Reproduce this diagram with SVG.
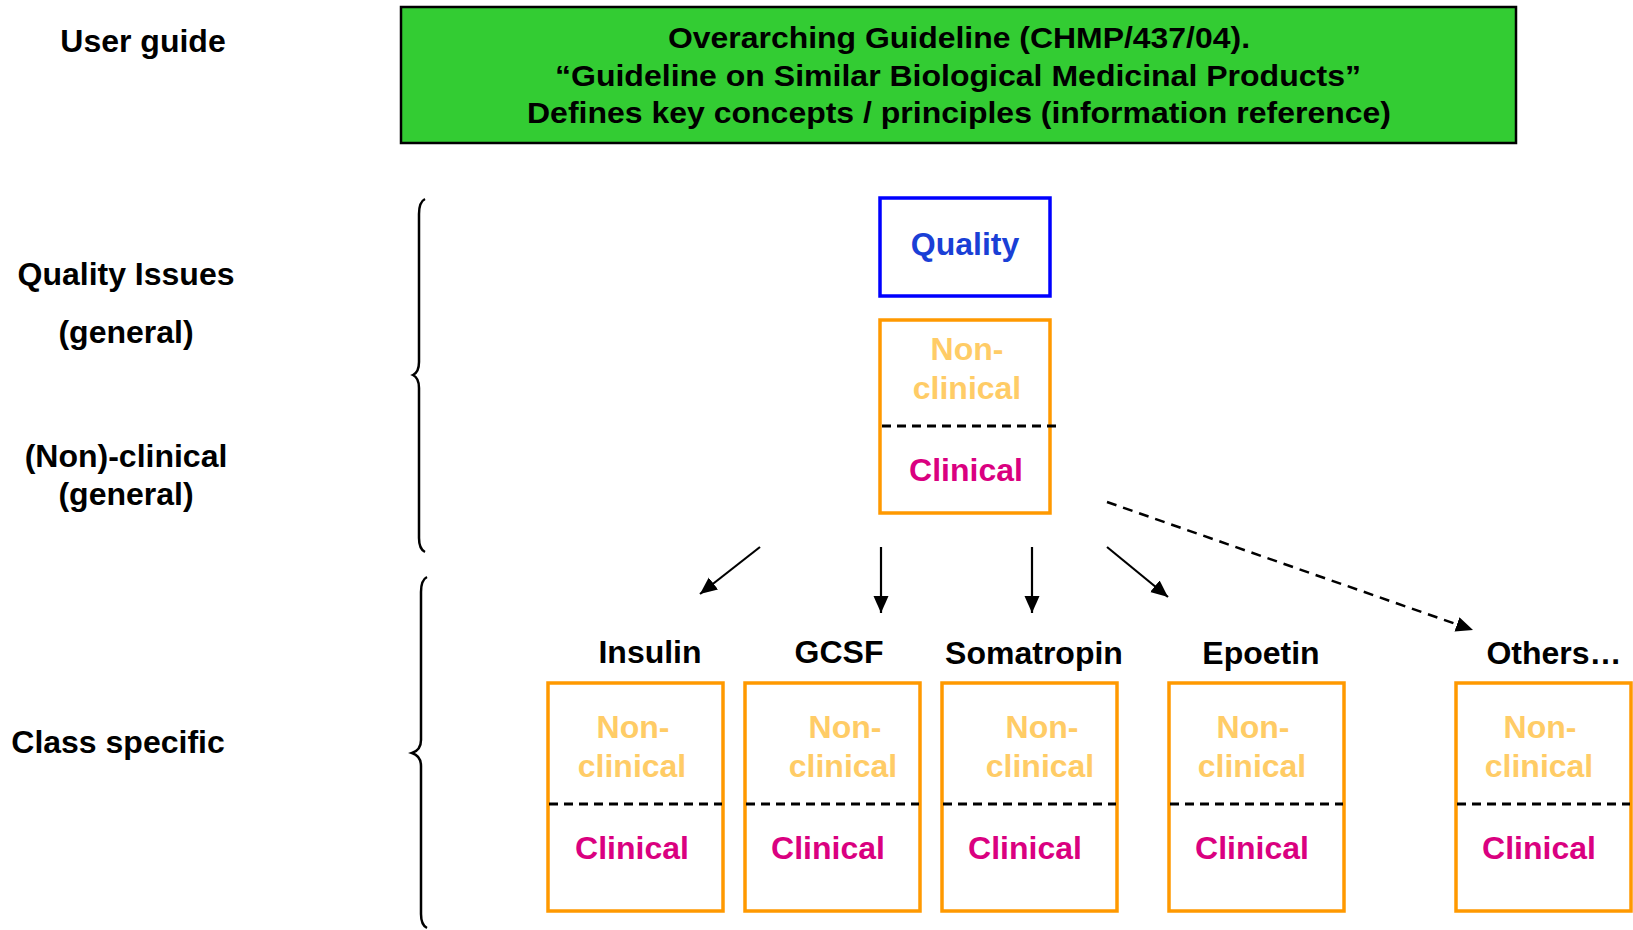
<svg xmlns="http://www.w3.org/2000/svg" width="1633" height="930" viewBox="0 0 1633 930">
<style>
text{font-family:"Liberation Sans",Arial,sans-serif;font-weight:bold;text-anchor:middle}
.lbl{font-size:32px;fill:#000}
.gt{font-size:30px;fill:#000}
.nc{font-size:32px;fill:#FFCC66}
.cl{font-size:32px;fill:#DA0080}
.obox{fill:#fff;stroke:#FF9900;stroke-width:3.5}
.div{stroke:#000;stroke-width:2.8;stroke-dasharray:9 6;fill:none}
.arr{stroke:#000;stroke-width:2.2;fill:none;marker-end:url(#ah)}
.brace{stroke:#000;stroke-width:2.5;fill:none}
</style>
<defs>
<marker id="ah" markerUnits="userSpaceOnUse" markerWidth="19" markerHeight="16" refX="17" refY="7.5" orient="auto">
<path d="M0,0 L17,7.5 L0,15 z" fill="#000"/>
</marker>
</defs>
<rect width="1633" height="930" fill="#fff"/>

<g id="labels">
<text class="lbl" x="143" y="52">User guide</text>
<text class="lbl" x="126" y="285">Quality Issues</text>
<text class="lbl" x="126" y="343">(general)</text>
<text class="lbl" x="126" y="467">(Non)-clinical</text>
<text class="lbl" x="126" y="505">(general)</text>
<text class="lbl" x="118" y="753">Class specific</text>
</g>

<g id="braces">
<path class="brace" d="M425,199 Q419,202 419,214 L419,362 Q419,372 413,375 Q419,378 419,388 L419,538 Q419,549 425,552"/>
<path class="brace" d="M427,577 Q421,580 421,592 L421,740 Q421,750 412,753 Q421,756 421,766 L421,914 Q421,925 427,928"/>
</g>

<g id="guideline">
<rect x="401" y="7" width="1115" height="136" fill="#33CC33" stroke="#000" stroke-width="2.5"/>
<text class="gt" x="959" y="48" textLength="582" lengthAdjust="spacingAndGlyphs">Overarching Guideline (CHMP/437/04).</text>
<text class="gt" x="958" y="86" textLength="806" lengthAdjust="spacingAndGlyphs">“Guideline on Similar Biological Medicinal Products”</text>
<text class="gt" x="959" y="123" textLength="864" lengthAdjust="spacingAndGlyphs">Defines key concepts / principles (information reference)</text>
</g>

<g id="quality">
<rect x="880" y="198" width="170" height="98" fill="#fff" stroke="#0000FF" stroke-width="3.5"/>
<text x="965" y="255" style="font-size:32px;fill:#1A3FD6">Quality</text>
</g>

<g id="general-nc">
<rect class="obox" x="880" y="320" width="170" height="193"/>
<text class="nc" x="967" y="360">Non-</text>
<text class="nc" x="967" y="399">clinical</text>
<line class="div" x1="882" y1="426" x2="1056" y2="426"/>
<text class="cl" x="966" y="481">Clinical</text>
</g>

<g id="insulin">
<text class="lbl" x="650" y="663">Insulin</text>
<rect class="obox" x="548" y="683" width="175" height="228"/>
<text class="nc" x="633" y="738">Non-</text>
<text class="nc" x="632" y="777">clinical</text>
<line class="div" x1="549" y1="804" x2="722" y2="804"/>
<text class="cl" x="632" y="859">Clinical</text>
</g>

<g id="gcsf">
<text class="lbl" x="839" y="663">GCSF</text>
<rect class="obox" x="745" y="683" width="175" height="228"/>
<text class="nc" x="845" y="738">Non-</text>
<text class="nc" x="843" y="777">clinical</text>
<line class="div" x1="746" y1="804" x2="919" y2="804"/>
<text class="cl" x="828" y="859">Clinical</text>
</g>

<g id="somatropin">
<text class="lbl" x="1034" y="664">Somatropin</text>
<rect class="obox" x="942" y="683" width="175" height="228"/>
<text class="nc" x="1042" y="738">Non-</text>
<text class="nc" x="1040" y="777">clinical</text>
<line class="div" x1="943" y1="804" x2="1116" y2="804"/>
<text class="cl" x="1025" y="859">Clinical</text>
</g>

<g id="epoetin">
<text class="lbl" x="1261" y="664">Epoetin</text>
<rect class="obox" x="1169" y="683" width="175" height="228"/>
<text class="nc" x="1253" y="738">Non-</text>
<text class="nc" x="1252" y="777">clinical</text>
<line class="div" x1="1170" y1="804" x2="1343" y2="804"/>
<text class="cl" x="1252" y="859">Clinical</text>
</g>

<g id="others">
<text class="lbl" x="1554" y="664">Others…</text>
<rect class="obox" x="1456" y="683" width="175" height="228"/>
<text class="nc" x="1540" y="738">Non-</text>
<text class="nc" x="1539" y="777">clinical</text>
<line class="div" x1="1457" y1="804" x2="1630" y2="804"/>
<text class="cl" x="1539" y="859">Clinical</text>
</g>

<g id="connectors">
<line class="arr" x1="760" y1="547" x2="700" y2="594"/>
<line class="arr" x1="881" y1="547" x2="881" y2="613"/>
<line class="arr" x1="1032" y1="547" x2="1032" y2="613"/>
<line class="arr" x1="1107" y1="547" x2="1168" y2="597"/>
<line class="arr" x1="1107" y1="502" x2="1473" y2="630" style="stroke-width:2.5;stroke-dasharray:10 7"/>
</g>
</svg>
